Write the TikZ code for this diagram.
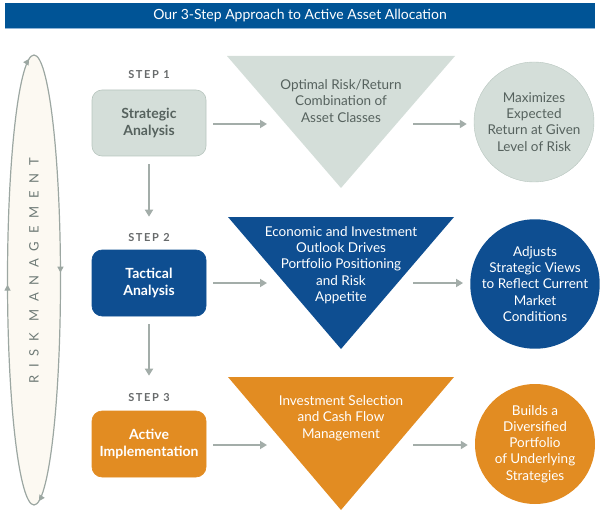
\documentclass[tikz,border=0pt]{standalone}
\usepackage{fontspec}
\setmainfont{Lato}
\usetikzlibrary{arrows.meta,decorations.markings}

\definecolor{titleblue}{HTML}{005496}
\definecolor{titleline}{HTML}{8DB3D6}
\definecolor{navy}{HTML}{0E4E91}
\definecolor{amber}{HTML}{E28C22}
\definecolor{sage}{HTML}{D4DED9}
\definecolor{sageedge}{HTML}{B7C5BE}
\definecolor{sagetext}{HTML}{56625E}
\definecolor{arrowgray}{HTML}{A3ADA9}
\definecolor{labelgray}{HTML}{676A6B}
\definecolor{cream}{HTML}{FCF9F2}
\definecolor{loopgray}{HTML}{9CA7A2}
\definecolor{riskgray}{HTML}{6E7A76}

\begin{document}
\begin{tikzpicture}[x=1pt,y=-1pt,
    flow/.style={draw=arrowgray, line width=2pt, -{Triangle[length=7pt,width=8pt]}},
    stepbox/.style={rounded corners=10pt, minimum width=114pt, minimum height=66pt,
      align=center, line width=0.6pt, font=\bfseries\fontsize{14}{17}\selectfont},
    steplabel/.style={text=labelgray,
      font=\bfseries\fontsize{11}{13}\selectfont\addfontfeatures{LetterSpace=15}},
    tritext/.style={align=center, font=\fontsize{13.5}{16.4}\selectfont},
    outcome/.style={circle, minimum size=120pt, inner sep=0pt, align=center,
      font=\fontsize{13.5}{16.2}\selectfont}]
    \useasboundingbox (0,0) rectangle (600,524);

    % title
    \node[fill=titleblue, minimum width=590pt, minimum height=25pt, inner sep=0pt,
      text=white, font=\fontsize{14}{16}\selectfont] (title) at (300,15.5)
      {Our 3-Step Approach to Active Asset Allocation};
    \draw[titleline, line width=1pt] (title.south west) -- (title.south east);

    % risk management loop
    \draw[fill=cream, draw=loopgray, line width=1.2pt, postaction={decorate},
      decoration={markings,
        mark=at position 0.243 with {\arrow{Triangle[length=6pt,width=6pt]}},
        mark=at position 0.495 with {\arrow{Triangle[length=6pt,width=6pt]}},
        mark=at position 0.743 with {\arrow{Triangle[length=6pt,width=6pt]}},
        mark=at position 0.992 with {\arrow{Triangle[length=6pt,width=6pt]}}}]
      (34,280) ellipse [x radius=26.5, y radius=225];
    \node[rotate=90, text=riskgray,
      font=\fontsize{13}{15}\selectfont\addfontfeatures{LetterSpace=60}] (risk)
      at (34,271) {RISK MANAGEMENT};

    % steps
    \node[steplabel] (step1) at (149,75) {STEP 1};
    \node[steplabel] (step2) at (149,238) {STEP 2};
    \node[steplabel] (step3) at (149,398) {STEP 3};
    \node[stepbox, fill=sage, draw=sageedge, text=sagetext] (strat) at (149,123)
      {Strategic\\Analysis};
    \node[stepbox, fill=navy, draw=navy, text=white] (tact) at (149,283)
      {Tactical\\Analysis};
    \node[stepbox, fill=amber, draw=amber, text=white] (impl) at (149,444)
      {Active\\Implementation};

    % funnels
    \fill[sage] (227,56) -- (455,56) -- (341,188) -- cycle;
    \fill[navy] (228,217) -- (454,217) -- (341,349) -- cycle;
    \fill[amber] (228,377) -- (454,377) -- (341,510) -- cycle;
    \node[tritext, text=sagetext] (mix) at (341,101)
      {Optimal Risk/Return\\Combination of\\Asset Classes};
    \node[tritext, text=white] (outlook) at (341,265)
      {Economic and Investment\\Outlook Drives\\Portfolio Positioning\\and Risk\\Appetite};
    \node[tritext, text=white] (select) at (341,418)
      {Investment Selection\\and Cash Flow\\Management};

    % results
    \node[outcome, fill=sage, draw=sageedge, text=sagetext] (maxret) at (534,122)
      {Maximizes\\Expected\\Return at Given\\Level of Risk};
    \node[outcome, fill=navy, text=white] (adjust) at (535,284)
      {Adjusts\\Strategic Views\\to Reflect Current\\Market\\Conditions};
    \node[outcome, fill=amber, text=white] (builds) at (535,444)
      {Builds a\\Diversified\\Portfolio\\of Underlying\\Strategies};

    % arrows
    \coordinate (in1) at (267,124);
    \coordinate (in2) at (267,283);
    \coordinate (in3) at (267,445);
    \coordinate (out1) at (413,124);
    \coordinate (out2) at (413,283);
    \coordinate (out3) at (413,445);
    \draw[flow, shorten <=7pt] (strat.east |- in1) -- (in1);
    \draw[flow, shorten <=7pt] (tact.east |- in2) -- (in2);
    \draw[flow, shorten <=7pt] (impl.east |- in3) -- (in3);
    \draw[flow, shorten >=7pt] (out1) -- (out1 -| maxret.west);
    \draw[flow, shorten >=7pt] (out2) -- (out2 -| adjust.west);
    \draw[flow, shorten >=7pt] (out3) -- (out3 -| builds.west);
    \draw[flow, shorten <=8pt, shorten >=33pt] (strat.south) -- (tact.north);
    \draw[flow, shorten <=8pt, shorten >=35pt] (tact.south) -- (impl.north);
\end{tikzpicture}
\end{document}
